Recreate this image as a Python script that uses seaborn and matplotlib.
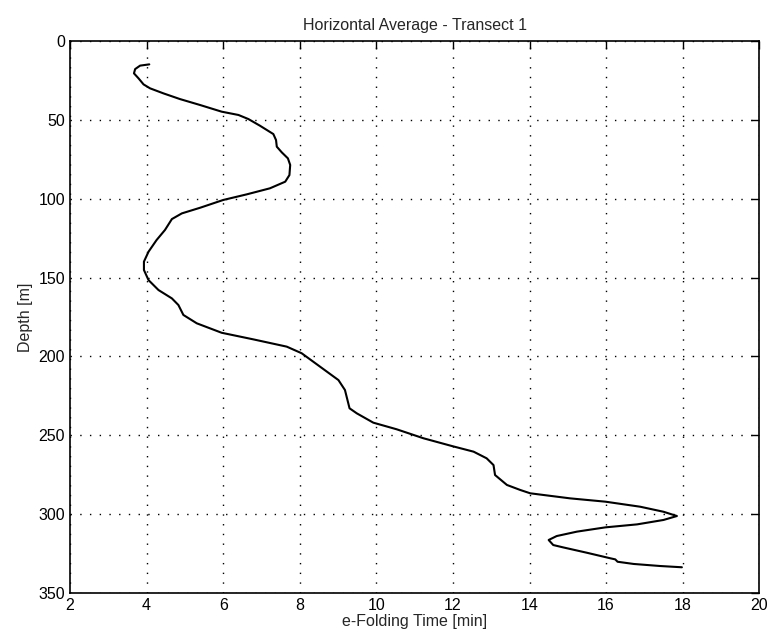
import matplotlib
matplotlib.use("Agg")
import matplotlib.pyplot as plt
import seaborn as sns
import pandas as pd

# e-folding time profile, horizontally averaged along transect 1
efold_min = [4.07, 3.83, 3.70, 3.67, 3.79, 3.92, 4.09, 4.44, 4.87, 5.40, 5.96,
             6.40, 6.66, 6.96, 7.31, 7.38, 7.40, 7.53, 7.69, 7.75, 7.73, 7.62,
             7.22, 6.62, 6.00, 5.40, 4.92, 4.66, 4.48, 4.26, 4.05, 3.93, 3.93,
             4.05, 4.31, 4.66, 4.83, 4.96, 5.31, 5.96, 6.79, 7.66, 8.05, 8.53,
             9.01, 9.18, 9.30, 9.49, 9.92, 10.53, 11.23, 11.97, 12.54, 12.88,
             13.06, 13.10, 13.41, 13.76, 14.02, 15.06, 15.98, 16.89, 17.50,
             17.85, 17.50, 16.81, 15.98, 15.24, 14.71, 14.50, 14.62, 14.88,
             15.50, 16.11, 16.24, 16.30, 16.72, 17.41, 17.98]
depth_m = [14.8, 15.6, 17.8, 20.5, 23.7, 27.5, 30.0, 33.2, 36.8, 40.6, 44.8,
           46.9, 49.5, 53.7, 59.0, 62.8, 67.0, 70.6, 74.4, 78.6, 85.0, 89.2,
           93.4, 97.2, 100.8, 105.7, 109.3, 112.9, 119.8, 126.2, 133.6, 139.9,
           145.2, 151.6, 157.9, 163.2, 167.4, 173.7, 179.0, 185.0, 189.2, 193.8,
           198.0, 206.5, 215.0, 221.3, 232.9, 236.1, 242.0, 246.2, 251.9, 256.8,
           260.4, 264.6, 268.9, 275.2, 281.5, 284.7, 286.8, 290.0, 292.1, 295.3,
           298.5, 301.2, 303.7, 306.5, 308.4, 311.1, 313.9, 316.4, 319.6, 321.1,
           324.5, 328.0, 328.7, 330.2, 331.6, 332.9, 333.7]

x_ticks = [2, 4, 6, 8, 10, 12, 14, 16, 18, 20]
y_ticks = [0, 50, 100, 150, 200, 250, 300, 350]

sns.set_style("white")
plt.rcParams["font.family"] = ["Liberation Sans", "DejaVu Sans"]
plt.rcParams["font.size"] = 11

df = pd.DataFrame({"time": efold_min, "depth": depth_m})

fig = plt.figure(figsize=(7.73, 6.43), dpi=100)
ax = fig.add_axes([0.0906, 0.0778, 0.8916, 0.8584])

sns.lineplot(data=df, x="time", y="depth", sort=False, estimator=None,
             color="black", linewidth=1.5, ax=ax,
             solid_joinstyle="round", solid_capstyle="round")

ax.set_xlim(2, 20)
ax.set_ylim(350, 0)
ax.set_xticks(x_ticks)
ax.set_yticks(y_ticks)
ax.grid(True, linestyle=(0, (1, 6)), color="black", linewidth=1.0)
ax.tick_params(direction="in", length=6, top=True, right=True,
               labelsize=11.5, colors="black", width=1)
for s in ax.spines.values():
    s.set_color("black")
    s.set_linewidth(1.2)

ax.set_title("Horizontal Average - Transect 1", fontsize=11.5, pad=8)
ax.set_xlabel("e-Folding Time [min]", fontsize=11.5, labelpad=1)
ax.set_ylabel("Depth [m]", fontsize=11.5, labelpad=4)

fig.savefig("out.png", dpi=100)
